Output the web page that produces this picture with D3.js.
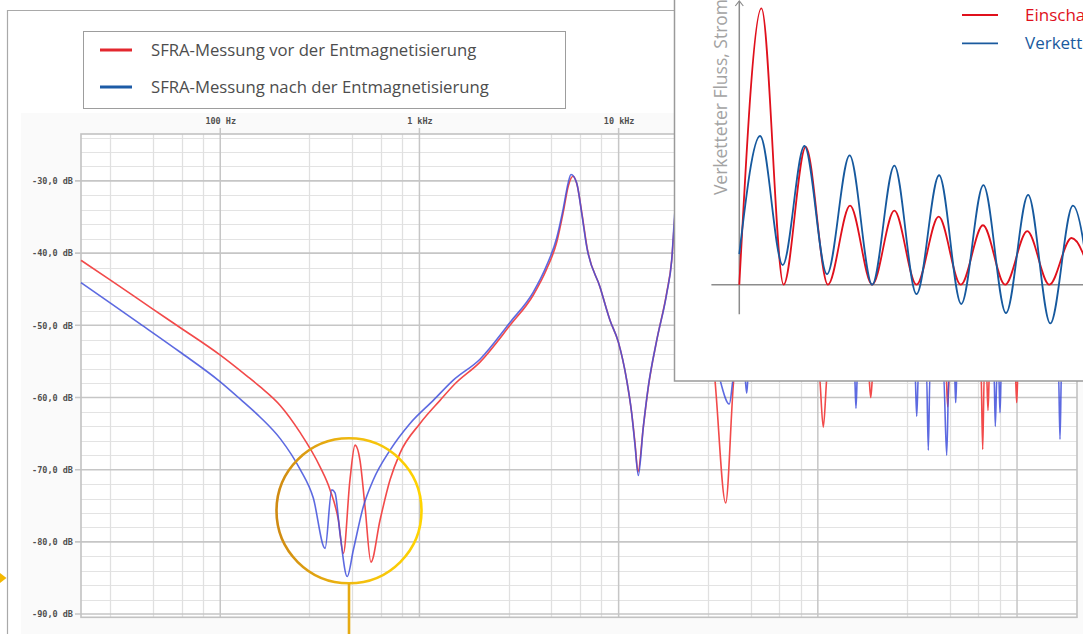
<!DOCTYPE html>
<html>
<head>
<meta charset="utf-8">
<script src="https://cdn.jsdelivr.net/npm/d3@7"></script>
<style>
  html, body { margin: 0; padding: 0; background: #fff; }
  svg { display: block; }
</style>
</head>
<body>
<svg id="chart" width="1083" height="634"></svg>
<script>
// ---- SFRA measurement, before demagnetisation (frequency in Hz, magnitude in dB)
const freqBefore = [20, 28.0, 46.1, 62.8, 99.7, 135.8, 158.3, 200, 251, 317, 356, 392, 415, 448, 475, 503, 533, 571, 634, 712, 799, 1007, 1269, 1509, 2014, 2849, 3729, 4354, 4887, 5275, 5589, 5902, 6180, 6549, 6938, 8061, 9048, 9961, 10977, 11631, 12082, 12510, 13300, 14088, 15529, 17430, 18465, 19180, 20330, 22820, 25610, 28750, 30110, 34460, 38380, 51240, 72480, 101340, 106510, 111800, 136880, 179650, 184300, 189250, 258500, 439900, 448600, 458100, 548000, 659300, 672400, 684900, 702600, 714800, 727300, 869900, 980000, 996100, 1011100, 1304000, 2000000];
const dbBefore = [-41.0, -43.7, -47.8, -50.3, -54.1, -57.0, -58.5, -61.1, -64.8, -69.6, -72.8, -77.0, -81.6, -71.4, -66.6, -68.7, -75.1, -82.8, -77.0, -71.4, -67.7, -63.6, -60.4, -58.1, -55.1, -50.0, -45.8, -42.2, -38.5, -34.3, -30.7, -29.35, -30.5, -34.6, -39.2, -44.7, -49.3, -52.3, -57.6, -62.2, -66.3, -70.3, -64.1, -58.6, -52.1, -45.5, -41.0, -34.8, -29.2, -34.8, -43.8, -52.1, -56.2, -74.6, -56.2, -52.8, -53.4, -56.5, -64.1, -56.5, -54.1, -56.5, -60.0, -56.5, -54.6, -56.5, -61.3, -56.5, -54.8, -56.5, -67.2, -56.5, -56.5, -61.8, -56.5, -55.1, -56.5, -60.7, -56.5, -54.8, -55.1];

// ---- SFRA measurement, after demagnetisation
const freqAfter = [20, 28.0, 39.6, 62.8, 99.7, 125.7, 158.3, 200, 251, 293, 336, 363, 377, 399, 434, 466, 523, 587, 712, 897, 1174, 1479, 2014, 2849, 3729, 4354, 4887, 5275, 5589, 5766, 6159, 6526, 6914, 8061, 9048, 9961, 10977, 11631, 12082, 12553, 13300, 14088, 15529, 17430, 18465, 19180, 20330, 22820, 25610, 28750, 31540, 35940, 38160, 42830, 43940, 44860, 72480, 152800, 155400, 158200, 217400, 307400, 313600, 320100, 351200, 358600, 365700, 427300, 443500, 455400, 485300, 492100, 499500, 766200, 777900, 793300, 808900, 821300, 833700, 1615000, 1643000, 1672000, 2000000];
const dbAfter = [-44.1, -46.9, -49.8, -53.7, -57.8, -60.2, -62.7, -65.7, -69.9, -73.9, -80.9, -72.8, -73.2, -78.8, -84.8, -81.1, -75.1, -71.4, -67.3, -63.6, -60.4, -57.6, -54.7, -49.6, -45.4, -41.7, -37.9, -33.8, -30.2, -29.1, -30.3, -34.5, -39.1, -44.7, -49.3, -52.3, -57.6, -62.2, -66.6, -70.8, -64.1, -58.5, -52.1, -45.6, -41.0, -34.1, -29.0, -34.5, -43.5, -52.0, -56.5, -60.9, -56.5, -56.5, -59.4, -56.5, -53.4, -56.5, -61.5, -56.5, -54.6, -56.5, -62.6, -56.5, -56.5, -67.3, -56.5, -56.5, -68.0, -56.5, -56.5, -60.7, -56.5, -56.5, -64.0, -56.5, -56.5, -62.1, -56.5, -56.5, -65.8, -56.5, -55.0];

// ---- axis ticks and labels
const dbTicks = [-30, -40, -50, -60, -70, -80, -90];
const freqTicks = [100, 1000, 10000, 100000, 1000000];
const freqTickLabels = ["100 Hz", "1 kHz", "10 kHz", "100 kHz", "1 MHz"];
const legendLabels = ["SFRA-Messung vor der Entmagnetisierung", "SFRA-Messung nach der Entmagnetisierung"];

// ---- inset: inrush current and linked flux over time (time in mains periods, arbitrary units)
const currentT = [0, 0.5, 1.0, 1.5, 2.0, 2.5, 3.0, 3.5, 4.0, 4.5, 5.0, 5.5, 6.0, 6.5, 7.0, 7.5, 8.0];
const currentV = [0, 10.0, 0, 4.99, 0, 2.86, 0, 2.68, 0, 2.46, 0, 2.15, 0, 1.94, 0, 1.69, 0];
const fluxT = [0, 0.47, 0.98, 1.47, 1.98, 2.49, 3.0, 3.5, 4.0, 4.51, 5.01, 5.51, 6.02, 6.52, 7.02, 7.53, 8.03];
const fluxV = [1.11, 5.38, 0.71, 5.02, 0.38, 4.68, 0, 4.31, -0.34, 3.96, -0.70, 3.60, -1.03, 3.25, -1.40, 2.86, -1.75];
const insetLegend = ["Einschaltstrom", "Verketteter Fluss"];
const insetAxisLabel = "Verketteter Fluss, Strom";

const svg = d3.select("#chart");

// ---------------- outer frame
svg.append("path")
  .attr("d", "M7.5,634 V10.5 H676")
  .attr("fill", "none").attr("stroke", "#a9a9a9").attr("stroke-width", 1.2);

// ---------------- chart panel
const plot = { left: 81, right: 1077, top: 134, bottom: 617.3 };
svg.append("rect").attr("x", 21).attr("y", 113).attr("width", 1062).attr("height", 521).attr("fill", "#fafafa");

const x = d3.scaleLog().domain([20, 2000000]).range([plot.left, plot.right]);
const y = d3.scaleLinear().domain([-23.5, -90.45]).range([plot.top, plot.bottom]);

const g = svg.append("g");
g.append("rect").attr("x", plot.left).attr("y", plot.top)
  .attr("width", plot.right - plot.left).attr("height", plot.bottom - plot.top)
  .attr("fill", "#ffffff");

// minor grid: every 2 dB, five linear subdivisions per decade
const minorDb = d3.range(-24, -90.5, -2).filter(d => d % 10 !== 0);
g.selectAll("line.hmin").data(minorDb).join("line")
  .attr("x1", plot.left).attr("x2", plot.right)
  .attr("y1", d => Math.round(y(d)) + 0.5).attr("y2", d => Math.round(y(d)) + 0.5)
  .attr("stroke", "#e3e3e3").attr("stroke-width", 1.2);

const minorFreq = [];
[10, 100, 1000, 10000, 100000, 1000000].forEach(dec => {
  [2.8, 4.6, 6.4, 8.2].forEach(m => {
    const f = dec * m;
    if (f > 20 && f < 2000000) minorFreq.push(f);
  });
});
g.selectAll("line.vmin").data(minorFreq).join("line")
  .attr("y1", plot.top).attr("y2", plot.bottom)
  .attr("x1", d => Math.round(x(d)) + 0.5).attr("x2", d => Math.round(x(d)) + 0.5)
  .attr("stroke", "#e0e0e0").attr("stroke-width", 1.3);

// major grid
g.selectAll("line.hmaj").data(dbTicks).join("line")
  .attr("x1", plot.left - 6).attr("x2", plot.right)
  .attr("y1", d => y(d)).attr("y2", d => y(d))
  .attr("stroke", "#c6c6c6").attr("stroke-width", 1.6);
g.selectAll("line.vmaj").data(freqTicks).join("line")
  .attr("y1", plot.top - 6).attr("y2", plot.bottom)
  .attr("x1", d => x(d)).attr("x2", d => x(d))
  .attr("stroke", "#c6c6c6").attr("stroke-width", 1.5);

g.append("rect").attr("x", plot.left).attr("y", plot.top)
  .attr("width", plot.right - plot.left).attr("height", plot.bottom - plot.top)
  .attr("fill", "none").attr("stroke", "#c2c2c2").attr("stroke-width", 1.6);

// axis labels
const yAxis = d3.axisLeft(y).tickValues(dbTicks).tickSize(0).tickPadding(0)
  .tickFormat(d => d.toFixed(1).replace(".", ",") + " dB");
const ya = g.append("g").attr("transform", `translate(${plot.left - 8},0)`).call(yAxis);
ya.select(".domain").remove();
ya.selectAll("text").attr("font-family", "'DejaVu Sans Mono', monospace")
  .attr("font-size", 8.5).attr("fill", "#505050").attr("font-weight", "bold");

const xAxis = d3.axisTop(x).tickValues(freqTicks).tickSize(0).tickPadding(0)
  .tickFormat((d, i) => freqTickLabels[i]);
const xa = g.append("g").attr("transform", `translate(0,${plot.top - 10})`).call(xAxis);
xa.select(".domain").remove();
xa.selectAll("text").attr("font-family", "'DejaVu Sans Mono', monospace")
  .attr("font-size", 8.5).attr("fill", "#505050").attr("font-weight", "bold");

// measurement traces
const lineGen = d3.line().x(d => x(d[0])).y(d => y(d[1])).curve(d3.curveMonotoneX);
const before = freqBefore.map((f, i) => [f, dbBefore[i]]);
const after = freqAfter.map((f, i) => [f, dbAfter[i]]);
const traces = g.append("g");
traces.append("path").datum(before).attr("d", lineGen)
  .attr("fill", "none").attr("stroke", "#f24a4a").attr("stroke-width", 1.6).attr("stroke-linejoin", "round");
traces.append("path").datum(after).attr("d", lineGen)
  .attr("fill", "none").attr("stroke", "#4150dc").attr("stroke-width", 1.6).attr("stroke-opacity", 0.85).attr("stroke-linejoin", "round");

// ---------------- legend
const legendColors = ["#e3282e", "#1d5ba6"];
const lg = svg.append("g");
lg.append("rect").attr("x", 83.5).attr("y", 31.5).attr("width", 482).attr("height", 77)
  .attr("fill", "#fff").attr("stroke", "#9d9d9d").attr("stroke-width", 1);
const items = lg.selectAll("g.item").data(legendLabels).join("g")
  .attr("transform", (d, i) => `translate(0,${50 + i * 37})`);
items.append("line").attr("x1", 100).attr("x2", 132).attr("y1", 0).attr("y2", 0)
  .attr("stroke", (d, i) => legendColors[i]).attr("stroke-width", 3);
items.append("text").attr("x", 151).attr("y", 0).attr("dy", "0.35em")
  .attr("font-family", "'Open Sans', sans-serif").attr("font-size", 16.7)
  .attr("fill", "#4d4d4d").text(d => d);

// ---------------- inset with inrush current and flux
const inset = svg.append("g");
inset.append("rect").attr("x", 674.5).attr("y", -5).attr("width", 430).attr("height", 386)
  .attr("fill", "#fff").attr("stroke", "#9a9a9a").attr("stroke-width", 1.5);

const ix = d3.scaleLinear().domain([0, 8]).range([739.3, 739.3 + 8 * 44.3]);
const iy = d3.scaleLinear().domain([0, 10]).range([284.7, 8.3]);

inset.append("line").attr("x1", ix(-0.63)).attr("x2", 1090).attr("y1", iy(0)).attr("y2", iy(0))
  .attr("stroke", "#8c8c8c").attr("stroke-width", 1.5);
inset.append("line").attr("x1", ix(0)).attr("x2", ix(0)).attr("y1", iy(-1.07)).attr("y2", 1)
  .attr("stroke", "#8c8c8c").attr("stroke-width", 1.5);
inset.append("path").attr("d", `M${ix(0) - 4},6 L${ix(0)},1 L${ix(0) + 4},6`)
  .attr("fill", "none").attr("stroke", "#8c8c8c").attr("stroke-width", 1.2);

inset.append("text")
  .attr("transform", `translate(726.5,97) rotate(-90)`)
  .attr("text-anchor", "middle")
  .attr("font-family", "'Open Sans', sans-serif").attr("font-size", 17.5)
  .attr("fill", "#a3a3a3").text(insetAxisLabel);

const insetLine = d3.line().x(d => ix(d[0])).y(d => iy(d[1])).curve(d3.curveMonotoneX);
inset.append("path").datum(currentT.map((t, i) => [t, currentV[i]])).attr("d", insetLine)
  .attr("fill", "none").attr("stroke", "#e0101c").attr("stroke-width", 1.8);
inset.append("path").datum(fluxT.map((t, i) => [t, fluxV[i]])).attr("d", insetLine)
  .attr("fill", "none").attr("stroke", "#16599e").attr("stroke-width", 1.8);

const insetColors = ["#e0101c", "#1a5a9e"];
const il = inset.selectAll("g.il").data(insetLegend).join("g")
  .attr("transform", (d, i) => `translate(0,${15 + i * 28.3})`);
il.append("line").attr("x1", 962).attr("x2", 998).attr("y1", 0).attr("y2", 0)
  .attr("stroke", (d, i) => insetColors[i]).attr("stroke-width", 1.8);
il.append("text").attr("x", 1025).attr("y", 0).attr("dy", "0.36em")
  .attr("font-family", "'Open Sans', sans-serif").attr("font-size", 17)
  .attr("fill", (d, i) => insetColors[i]).text(d => d);

// ---------------- highlight of the low-frequency dip
const defs = svg.append("defs");
const grad = defs.append("linearGradient").attr("id", "ring").attr("x1", "0%").attr("x2", "100%");
grad.append("stop").attr("offset", "0%").attr("stop-color", "#cf8a12");
grad.append("stop").attr("offset", "55%").attr("stop-color", "#f2bd10");
grad.append("stop").attr("offset", "100%").attr("stop-color", "#ffd400");

const cx = x(443), cy = y(-75.7);
svg.append("circle").attr("cx", cx).attr("cy", cy).attr("r", 72.5)
  .attr("fill", "none").attr("stroke", "url(#ring)").attr("stroke-width", 2.6);
svg.append("line").attr("x1", cx).attr("x2", cx).attr("y1", cy + 72.5).attr("y2", 634)
  .attr("stroke", "#e6aa12").attr("stroke-width", 2.6);

// marker on the left edge
svg.append("path").attr("d", "M0,573 L6.5,578 L0,583 Z").attr("fill", "#f4b800");
</script>
</body>
</html>
